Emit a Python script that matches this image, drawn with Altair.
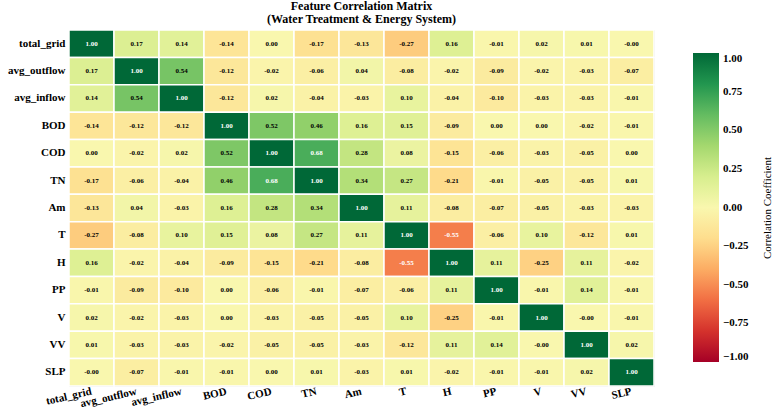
import altair as alt
import pandas as pd

features = ["total_grid", "avg_outflow", "avg_inflow", "BOD", "COD", "TN",
            "Am", "T", "H", "PP", "V", "VV", "SLP"]

# Pairwise correlation coefficients, one list per feature (row order = features)
r_total_grid = [1.00, 0.17, 0.14, -0.14, 0.00, -0.17, -0.13, -0.27, 0.16, -0.01, 0.02, 0.01, -0.00]
r_avg_outflow = [0.17, 1.00, 0.54, -0.12, -0.02, -0.06, 0.04, -0.08, -0.02, -0.09, -0.02, -0.03, -0.07]
r_avg_inflow = [0.14, 0.54, 1.00, -0.12, 0.02, -0.04, -0.03, 0.10, -0.04, -0.10, -0.03, -0.03, -0.01]
r_bod = [-0.14, -0.12, -0.12, 1.00, 0.52, 0.46, 0.16, 0.15, -0.09, 0.00, 0.00, -0.02, -0.01]
r_cod = [0.00, -0.02, 0.02, 0.52, 1.00, 0.68, 0.28, 0.08, -0.15, -0.06, -0.03, -0.05, 0.00]
r_tn = [-0.17, -0.06, -0.04, 0.46, 0.68, 1.00, 0.34, 0.27, -0.21, -0.01, -0.05, -0.05, 0.01]
r_am = [-0.13, 0.04, -0.03, 0.16, 0.28, 0.34, 1.00, 0.11, -0.08, -0.07, -0.05, -0.03, -0.03]
r_t = [-0.27, -0.08, 0.10, 0.15, 0.08, 0.27, 0.11, 1.00, -0.55, -0.06, 0.10, -0.12, 0.01]
r_h = [0.16, -0.02, -0.04, -0.09, -0.15, -0.21, -0.08, -0.55, 1.00, 0.11, -0.25, 0.11, -0.02]
r_pp = [-0.01, -0.09, -0.10, 0.00, -0.06, -0.01, -0.07, -0.06, 0.11, 1.00, -0.01, 0.14, -0.01]
r_v = [0.02, -0.02, -0.03, 0.00, -0.03, -0.05, -0.05, 0.10, -0.25, -0.01, 1.00, -0.00, -0.01]
r_vv = [0.01, -0.03, -0.03, -0.02, -0.05, -0.05, -0.03, -0.12, 0.11, 0.14, -0.00, 1.00, 0.02]
r_slp = [-0.00, -0.07, -0.01, -0.01, 0.00, 0.01, -0.03, 0.01, -0.02, -0.01, -0.01, 0.02, 1.00]

corr = [r_total_grid, r_avg_outflow, r_avg_inflow, r_bod, r_cod, r_tn, r_am,
        r_t, r_h, r_pp, r_v, r_vv, r_slp]

colorbar_ticks = [1.0, 0.75, 0.5, 0.25, 0.0, -0.25, -0.5, -0.75, -1.0]

records = []
for i, rname in enumerate(features):
    for j, cname in enumerate(features):
        v = corr[i][j]
        records.append({"row": rname, "col": cname, "value": v, "label": f"{v:.2f}"})
df = pd.DataFrame(records)

serif = "Liberation Serif"

base = alt.Chart(df).encode(
    x=alt.X("col:N", sort=features,
            axis=alt.Axis(title=None, labelAngle=-13, labelAlign="right",
                          labelBaseline="middle", ticks=False, domain=False,
                          labelFont=serif, labelFontWeight="bold", labelFontSize=11,
                          labelPadding=5, labelColor="black")),
    y=alt.Y("row:N", sort=features,
            axis=alt.Axis(title=None, ticks=False, domain=False,
                          labelFont=serif, labelFontWeight="bold", labelFontSize=11,
                          labelPadding=4, labelColor="black")),
)

cells = base.mark_rect(stroke="white", strokeWidth=1.5).encode(
    color=alt.Color(
        "value:Q",
        scale=alt.Scale(scheme="redyellowgreen", domain=[-1, 1]),
        legend=alt.Legend(
            orient="none", legendX=624, legendY=23, direction="vertical",
            gradientLength=309, gradientThickness=26, title=None,
            values=colorbar_ticks, format=".2f",
            labelFont=serif, labelFontWeight="bold", labelFontSize=11,
            labelOffset=4, labelColor="black",
        ),
    )
)

annot = base.mark_text(font=serif, fontSize=7, fontWeight="bold").encode(
    text="label:N",
    color=alt.condition("datum.value >= 0.6 || datum.value <= -0.5",
                        alt.value("white"), alt.value("black")),
)

cbar_title = alt.Chart(pd.DataFrame({"t": ["Correlation Coefficient"]})).mark_text(
    angle=270, font=serif, fontSize=11, color="black"
).encode(text="t:N", x=alt.value(699), y=alt.value(178))

chart = alt.layer(cells, annot, cbar_title).properties(
    width=585,
    height=356,
    title=alt.Title(["Feature Correlation Matrix", "(Water Treatment & Energy System)"],
                    font=serif, fontSize=12, fontWeight="bold", anchor="middle",
                    offset=3, lineHeight=13, color="black"),
    autosize=alt.AutoSizeParams(type="none"),
    padding={"left": 69, "top": 30, "right": 119, "bottom": 25},
).configure_view(stroke=None).configure(background="white")

chart.save("out.html", embed_options={"renderer": "svg", "actions": False})
